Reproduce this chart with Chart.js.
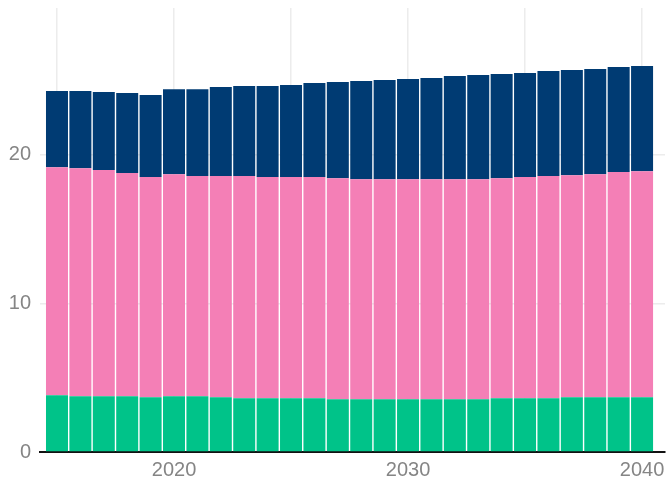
<!DOCTYPE html>
<html>
<head>
<meta charset="utf-8">
<script src="https://cdn.jsdelivr.net/npm/chart.js@4/dist/chart.umd.min.js"></script>
<style>
  html, body { margin: 0; padding: 0; background: #ffffff; }
  #wrap { width: 666px; height: 482px; position: relative; }
</style>
</head>
<body>
<div id="wrap"><canvas id="c" width="666" height="482"></canvas></div>
<script>
// ---- data ----
const years = [2015, 2016, 2017, 2018, 2019, 2020, 2021, 2022, 2023, 2024, 2025, 2026, 2027,
               2028, 2029, 2030, 2031, 2032, 2033, 2034, 2035, 2036, 2037, 2038, 2039, 2040];
const greenValues = [3.82, 3.75, 3.75, 3.75, 3.68, 3.75, 3.75, 3.68, 3.62, 3.62, 3.62, 3.62, 3.55,
                     3.55, 3.55, 3.55, 3.55, 3.55, 3.55, 3.62, 3.62, 3.62, 3.68, 3.68, 3.68, 3.68];
const pinkValues = [15.35, 15.35, 15.22, 15.02, 14.82, 14.95, 14.82, 14.89, 14.95, 14.88, 14.88, 14.88, 14.88,
                    14.81, 14.81, 14.81, 14.81, 14.81, 14.81, 14.81, 14.88, 14.95, 14.95, 15.02, 15.16, 15.22];
const blueValues = [5.12, 5.19, 5.25, 5.39, 5.52, 5.72, 5.85, 5.99, 6.06, 6.13, 6.19, 6.33, 6.47,
                    6.60, 6.67, 6.74, 6.81, 6.94, 7.01, 7.01, 7.00, 7.07, 7.07, 7.07, 7.07, 7.07];
const xGridTicks = [2015, 2020, 2025, 2030, 2035, 2040];
const xLabelTicks = [2020, 2030, 2040];
const yTicks = [0, 10, 20];

const toPoints = arr => arr.map((v, i) => ({ x: years[i], y: v }));

const FONT = "'Liberation Sans', Arial, sans-serif";
const LABEL_COLOR = '#858585';
const GRID_COLOR = '#ececec';

new Chart(document.getElementById('c'), {
  type: 'bar',
  data: {
    datasets: [
      { label: 'green', data: toPoints(greenValues), backgroundColor: '#00c389' },
      { label: 'pink', data: toPoints(pinkValues), backgroundColor: '#f47fb6' },
      { label: 'blue', data: toPoints(blueValues), backgroundColor: '#003b73' }
    ]
  },
  options: {
    responsive: false,
    animation: false,
    devicePixelRatio: 1,
    layout: { padding: { top: 8, right: 1, left: 0, bottom: 0 } },
    datasets: { bar: { barPercentage: 0.94, categoryPercentage: 1.0, borderWidth: 0 } },
    plugins: { legend: { display: false }, tooltip: { enabled: false } },
    scales: {
      x: {
        type: 'linear',
        stacked: true,
        offset: false,
        min: 2014.274,
        max: 2040.98,
        afterBuildTicks: s => { s.ticks = xGridTicks.map(v => ({ value: v })); },
        afterFit: s => { s.height = 30; s.paddingLeft = 0; s.paddingRight = 0; },
        grid: { color: GRID_COLOR, lineWidth: 1.5, drawTicks: false, offset: false },
        border: { display: true, color: '#111111', width: 2 },
        ticks: {
          autoSkip: false,
          maxRotation: 0,
          padding: 6,
          color: LABEL_COLOR,
          font: { family: FONT, size: 20 },
          callback: v => (xLabelTicks.includes(v) ? String(v) : '')
        }
      },
      y: {
        stacked: true,
        min: 0,
        max: 29.88,
        afterBuildTicks: s => { s.ticks = yTicks.map(v => ({ value: v })); },
        afterFit: s => { s.width = 40; s.paddingTop = 0; s.paddingBottom = 0; },
        grid: {
          color: c => (c.tick && c.tick.value === 0 ? 'rgba(0,0,0,0)' : GRID_COLOR),
          lineWidth: 1.5,
          drawTicks: false
        },
        border: { display: false },
        ticks: {
          padding: 9,
          color: LABEL_COLOR,
          font: { family: FONT, size: 20 }
        }
      }
    }
  }
});
</script>
</body>
</html>
